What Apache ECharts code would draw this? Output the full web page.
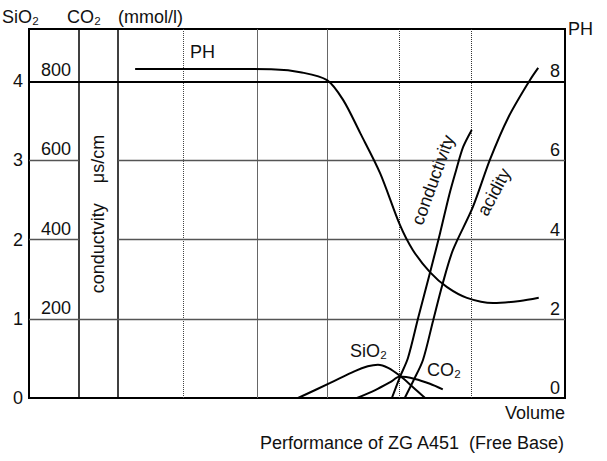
<!DOCTYPE html>
<html>
<head>
<meta charset="utf-8">
<script src="https://cdn.jsdelivr.net/npm/echarts@6/dist/echarts.min.js"></script>
<style>
  html, body { margin: 0; padding: 0; background: #fff; }
  #main { width: 607px; height: 461px; }
</style>
</head>
<body>
<div id="main"></div>
<script>
// volume axis runs 0..100, mmol/l axis 0..4.66, PH = 2x mmol, conductivity = 200x mmol
var gridX = [9.3, 16.6, 28.7, 42.5, 55.6, 69.0, 82.6];
var gridY = [1, 2, 3, 4];

var phX = [19.8, 35, 46.0, 50.6, 55.6, 58.6, 61.8, 65.5, 69.2, 71.6, 74.8, 78.0, 81.7, 86.6, 91.6, 95.1];
var phY = [8.31, 8.31, 8.30, 8.23, 8.03, 7.53, 6.69, 5.68, 4.37, 3.74, 3.18, 2.80, 2.53, 2.40, 2.45, 2.53];

var condX = [67.7, 69.2, 70.7, 72.6, 74.8, 76.7, 78.4, 79.7, 81.0, 82.6];
var condY = [0, 53, 101, 202, 316, 417, 513, 576, 634, 677];

var acidX = [70.1, 71.8, 73.5, 75.4, 77.2, 79.1, 82.8, 86.0, 89.4, 93.5, 95.0];
var acidY = [0, 0.23, 0.48, 0.98, 1.45, 1.87, 2.41, 3.01, 3.54, 4.02, 4.17];

var sioX = [50.2, 56.2, 60.8, 63.2, 65.1, 67.0, 69.2, 71.6, 73.9];
var sioY = [0, 0.19, 0.34, 0.40, 0.42, 0.38, 0.28, 0.14, 0];

var co2X = [61.2, 64.6, 67.4, 69.2, 72.0, 74.8, 77.2];
var co2Y = [0, 0.10, 0.20, 0.27, 0.24, 0.18, 0.11];

var MMOL_MAX = 4.66;
var FONT = 'Liberation Sans, Arial, sans-serif';
var FS = 18;

function pairs(xs, ys) {
    return xs.map(function (x, i) { return [x, ys[i]]; });
}

// line styles for the vertical rules, same order as gridX
var vStyle = [
    { color: '#000', width: 1.5, type: 'solid' },
    { color: '#000', width: 1.5, type: 'solid' },
    { color: '#444', width: 1, type: 'dotted' },
    { color: '#666', width: 1, type: 'solid' },
    { color: '#666', width: 1, type: 'solid' },
    { color: '#333', width: 1, type: 'dotted' },
    { color: '#333', width: 1, type: 'dotted' }
];

var rules = [];
gridX.forEach(function (x, i) {
    rules.push([{ coord: [x, 0], lineStyle: vStyle[i] }, { coord: [x, MMOL_MAX] }]);
});
gridY.forEach(function (y) {
    var st = y === 4 ? { color: '#000', width: 2, type: 'solid' } : { color: '#555', width: 1.3, type: 'solid' };
    if (y === 2 || y === 3) {
        // the conductivity label column has no rule
        rules.push([{ coord: [0, y], lineStyle: st }, { coord: [gridX[0], y] }]);
        rules.push([{ coord: [gridX[1], y], lineStyle: st }, { coord: [100, y] }]);
    } else {
        rules.push([{ coord: [0, y], lineStyle: st }, { coord: [100, y] }]);
    }
});

var curve = function (name, data, yIndex) {
    return {
        name: name,
        type: 'line',
        yAxisIndex: yIndex,
        data: data,
        smooth: 0.3,
        showSymbol: false,
        symbol: 'none',
        lineStyle: { color: '#000', width: 2 },
        z: 5
    };
};

var txt = function (s) {
    return { text: s, fontSize: FS, fontFamily: FONT, fill: '#111' };
};

var myChart = echarts.init(document.getElementById('main'), null, { renderer: 'svg' });
var option = {
    animation: false,
    backgroundColor: '#fff',
    title: {
        text: 'Performance of ZG A451  (Free Base)',
        right: 42,
        top: 434,
        padding: 0,
        textStyle: { fontSize: FS, fontWeight: 'normal', color: '#111', fontFamily: FONT }
    },
    grid: {
        left: 29, right: 42, top: 29, bottom: 63,
        show: true, borderColor: '#000', borderWidth: 2
    },
    xAxis: {
        type: 'value',
        min: 0, max: 100,
        name: 'Volume',
        nameLocation: 'end',
        nameGap: 0,
        nameTextStyle: {
            fontSize: FS, color: '#111', fontFamily: FONT,
            align: 'right', verticalAlign: 'top', padding: [6, 0, 0, 0]
        },
        axisLine: { lineStyle: { color: '#000', width: 2 } },
        axisTick: { show: false },
        axisLabel: { show: false },
        splitLine: { show: false }
    },
    yAxis: [
        {
            type: 'value', min: 0, max: MMOL_MAX, interval: 1,
            position: 'left',
            axisLine: { show: true, lineStyle: { color: '#000', width: 2 } },
            axisTick: { show: false },
            axisLabel: { showMaxLabel: false, margin: 6, fontSize: FS, color: '#111', fontFamily: FONT },
            splitLine: { show: false }
        },
        {
            type: 'value', min: 0, max: MMOL_MAX * 2, interval: 2,
            position: 'right',
            name: 'PH',
            nameLocation: 'end',
            nameGap: 0,
            nameTextStyle: {
                fontSize: FS, color: '#111', fontFamily: FONT,
                align: 'left', verticalAlign: 'middle', padding: [4, 0, 0, 3]
            },
            axisLine: { show: false },
            axisTick: { show: false },
            axisLabel: {
                inside: true, showMaxLabel: false, margin: 5, verticalAlign: 'bottom',
                padding: [0, 0, 1, 0], fontSize: FS, color: '#111', fontFamily: FONT
            },
            splitLine: { show: false }
        },
        {
            type: 'value', min: 0, max: MMOL_MAX * 200, interval: 200,
            position: 'left',
            axisLine: { show: false },
            axisTick: { show: false },
            axisLabel: {
                inside: true, showMaxLabel: false, showMinLabel: false, margin: 12,
                verticalAlign: 'bottom', padding: [0, 0, 2, 0],
                fontSize: FS, color: '#111', fontFamily: FONT
            },
            splitLine: { show: false }
        }
    ],
    graphic: [
        { type: 'text', left: 2, top: 8, style: txt('SiO₂') },
        { type: 'text', left: 67, top: 8, style: txt('CO₂') },
        { type: 'text', left: 118, top: 8, style: txt('(mmol/l)') },
        { type: 'text', left: 190, top: 43, style: txt('PH') },
        { type: 'text', left: 350, top: 342, style: txt('SiO₂') },
        { type: 'text', left: 427, top: 361, style: txt('CO₂') },
        {
            type: 'text', x: 98, y: 214, rotation: Math.PI / 2,
            style: Object.assign(txt('conductvity    μs/cm'), { align: 'center', verticalAlign: 'middle' })
        },
        {
            type: 'text', x: 433, y: 180, rotation: 70 * Math.PI / 180,
            style: Object.assign(txt('conductivity'), { align: 'center', verticalAlign: 'middle' })
        },
        {
            type: 'text', x: 494, y: 192, rotation: 62 * Math.PI / 180,
            style: Object.assign(txt('acidity'), { align: 'center', verticalAlign: 'middle' })
        }
    ],
    series: [
        {
            name: 'rules',
            type: 'line',
            data: [],
            silent: true,
            markLine: { silent: true, symbol: 'none', label: { show: false }, animation: false, data: rules },
            z: 1
        },
        curve('PH', pairs(phX, phY), 1),
        curve('conductivity', pairs(condX, condY), 2),
        curve('acidity', pairs(acidX, acidY), 0),
        curve('SiO2', pairs(sioX, sioY), 0),
        curve('CO2', pairs(co2X, co2Y), 0)
    ]
};
myChart.setOption(option);
</script>
</body>
</html>
